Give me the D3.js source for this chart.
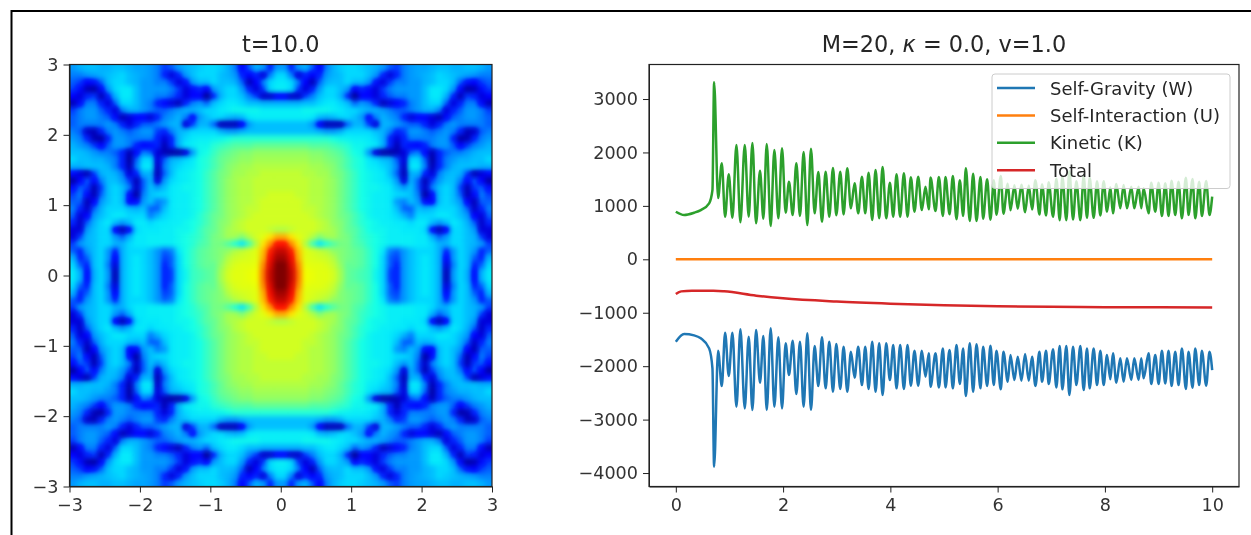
<!DOCTYPE html>
<html>
<head>
<meta charset="utf-8">
<script src="https://cdn.jsdelivr.net/npm/d3@7"></script>
<style>
  html, body { margin:0; padding:0; background:#fff; overflow:hidden; }
  svg { display:block; filter:blur(0.6px); }
  text { font-family:"DejaVu Sans", sans-serif; fill:#262626; }
  .tick line, .domain { stroke:#222; }
  .tick text { font-size:17.6px; font-family:"DejaVu Sans", sans-serif; fill:#333; }
</style>
</head>
<body>
<div id="fig"></div>
<script>
// upper left quarter of the density map, colour level read off by eye, rows run y=3 -> 0, columns x=-3 -> 0
// the picture is mirror symmetric so the other three quarters reuse it
const density = [
  [24,26,27,27,26,26,27,27,26,25,25,24,22,18,20,24,26,27,28,29,29,28,26,22,12,20,26,24,16,24],
  [22,22,24,25,26,27,28,29,27,26,25,24,22,16,8,16,24,27,29,29,29,27,26,24,16,10,16,8,22,29],
  [20,18,11,14,20,27,29,29,27,26,24,24,22,22,18,8,14,24,27,27,29,27,27,26,20,6,11,22,29,31],
  [18,13,6,5,13,24,29,31,31,27,24,24,24,24,22,18,8,13,16,10,24,27,29,29,24,16,8,18,29,32],
  [11,8,16,18,6,16,26,31,31,27,24,24,22,22,20,16,8,11,11,4,16,26,29,29,27,22,18,7,7,11],
  [6,13,22,22,16,8,20,29,29,27,24,22,16,11,8,6,16,22,24,20,27,29,31,31,29,27,27,26,26,26],
  [18,22,24,24,20,16,8,22,26,26,24,22,20,20,22,24,26,26,27,29,29,31,32,34,34,34,34,32,32,32],
  [20,22,24,24,22,20,13,6,8,10,10,8,16,22,24,26,22,13,24,27,29,29,27,26,27,31,32,32,32,32],
  [20,22,22,22,22,24,22,16,8,16,20,20,22,24,26,26,8,18,26,26,20,6,6,6,11,24,27,27,27,27],
  [22,20,7,6,16,22,24,22,20,22,24,24,18,16,22,26,27,29,29,29,29,26,24,24,26,27,27,27,27,27],
  [24,22,16,6,5,16,24,24,22,22,22,22,16,8,16,26,29,31,32,32,33,34,36,38,38,38,38,38,38,38],
  [26,24,22,18,11,20,24,24,22,16,10,13,16,6,16,26,31,32,34,34,38,40,42,44,44,44,46,46,46,46],
  [27,27,26,24,22,22,20,16,6,13,22,20,8,6,5,5,8,24,34,36,40,44,46,48,50,50,52,52,52,52],
  [29,27,27,26,26,24,22,16,5,20,29,29,8,20,26,27,29,31,36,38,42,46,48,50,52,52,54,54,54,54],
  [26,26,27,27,27,26,22,16,6,22,31,31,7,22,27,29,31,32,36,38,42,46,50,52,54,54,56,56,56,56],
  [13,8,6,18,26,27,26,22,8,16,26,26,6,20,27,31,32,34,36,40,44,48,50,54,54,56,56,58,58,58],
  [5,11,20,13,22,27,27,24,18,6,20,26,8,24,29,31,32,34,36,40,44,48,52,54,56,56,58,58,58,58],
  [13,20,18,6,18,27,29,27,22,7,20,27,24,27,31,32,34,34,36,40,44,48,52,54,56,56,58,58,58,58],
  [18,22,13,6,20,27,29,27,13,5,22,27,29,29,31,32,32,34,36,40,44,48,52,54,56,56,58,58,60,60],
  [20,20,6,11,24,27,29,27,11,13,24,27,22,24,31,32,32,34,36,40,44,48,52,54,56,56,58,60,60,60],
  [22,16,7,20,26,29,29,29,27,26,27,20,20,27,31,32,32,34,36,40,44,48,52,54,56,58,58,60,60,60],
  [20,8,11,24,27,29,31,31,29,29,29,22,26,29,31,32,32,34,38,42,46,48,52,54,56,58,60,60,60,60],
  [16,7,20,26,29,31,27,24,27,31,31,29,31,31,32,32,34,36,38,42,46,50,52,56,58,60,60,60,60,60],
  [8,8,24,27,29,29,11,6,13,29,31,31,31,32,32,34,34,36,40,44,46,50,54,56,58,60,60,60,58,56],
  [8,18,26,27,29,29,24,20,26,31,31,32,32,32,32,34,36,38,40,44,48,50,54,54,50,56,60,62,66,72],
  [18,24,26,27,29,29,26,26,29,31,31,32,32,32,32,34,36,38,42,44,48,48,44,38,30,42,56,66,76,88],
  [20,16,24,27,29,24,16,26,29,29,29,27,24,20,22,31,36,40,44,46,48,50,52,56,58,60,62,70,86,94],
  [26,16,20,27,29,24,11,26,29,31,29,27,24,18,20,29,36,40,44,46,48,50,56,59,60,61,62,72,90,97],
  [29,20,16,27,29,22,8,26,29,31,29,27,24,16,20,29,36,40,44,46,46,52,58,61,62,62,63,76,92,100],
  [31,26,13,26,29,24,6,26,29,31,29,27,24,16,18,29,34,40,42,44,46,54,60,62,62,63,64,78,94,100]
]

const time = [0,0.155,0.341,0.466,0.621,0.683,0.714,0.788,0.857,0.919,0.987,1.055,1.13,1.204,1.285,1.359,1.428,1.496,1.57,1.632,1.695,1.769,1.837,1.912,1.98,2.048,2.11,2.179,2.247,2.315,2.383,2.452,2.52,2.588,2.657,2.725,2.793,2.861,2.93,2.992,3.066,3.128,3.197,3.265,3.333,3.401,3.47,3.532,3.594,3.662,3.724,3.792,3.855,3.923,3.991,4.053,4.115,4.183,4.252,4.32,4.382,4.45,4.519,4.587,4.655,4.717,
  4.749,4.842,4.904,4.979,5.028,5.103,5.165,5.233,5.295,5.357,5.407,5.481,5.543,5.606,5.68,5.73,5.804,5.866,5.928,5.978,6.059,6.108,6.189,6.239,6.313,6.375,6.443,6.512,6.58,6.642,6.704,6.779,6.828,6.903,6.952,7.033,7.095,7.157,7.207,7.281,7.337,7.406,7.468,7.542,7.604,7.666,7.716,7.79,7.853,7.915,7.977,8.039,8.101,8.15,8.213,8.287,8.349,8.411,8.492,8.548,8.628,8.678,8.721,8.815,8.864,8.939,9.001,9.063,9.125,9.187,9.243,9.311,9.373,9.435,9.51,9.559,9.634,9.684,9.758,9.808,9.888,9.95,10]

const selfGravity = [-1542,-1398,-1423,-1479,-1667,-2041,-3881,-1710,-2372,-1373,-2184,-1373,-2759,-1311,-2790,-1448,-2821,-1323,-2309,-1436,-2821,-1292,-2759,-1461,-2790,-1573,-2166,-1523,-2521,-1542,-2759,-1386,-2821,-1623,-2372,-1461,-2415,-1542,-2478,-1585,-2428,-1635,-2478,-1729,-2216,-1635,-2353,-1635,-2428,-1542,-2478,-1573,-2540,-1573,-2259,-1604,-2415,-1604,-2428,-1604,-2365,-1710,-2365,-1710,-2197,-1760,
  -2384,-1760,-2397,-1667,-2397,-1698,-2415,-1604,-2334,-1667,-2559,-1573,-2478,-1592,-2415,-1635,-2372,-1617,-2353,-1710,-2434,-1729,-2291,-1791,-2259,-1823,-2272,-1773,-2272,-1823,-2372,-1729,-2291,-1710,-2334,-1685,-2397,-1623,-2434,-1623,-2540,-1635,-2353,-1623,-2447,-1667,-2415,-1667,-2353,-1710,-2353,-1791,-2247,-1760,-2309,-1854,-2291,-1854,-2259,-1854,-2259,-1854,-2228,-1760,-2334,-1791,-2334,-1710,-2322,-1710,-2372,-1729,-2353,-1667,-2428,-1729,-2403,-1667,-2353,-1710,-2365,-1729,-2072]

const kinetic = [891,829,872,922,1048,1297,3313,1147,1796,798,1590,779,2139,692,2139,798,2177,673,1658,760,2158,623,2046,767,2077,872,1453,829,1796,810,2008,642,2070,860,1634,704,1640,798,1709,823,1640,841,1703,954,1422,860,1546,860,1621,735,1671,767,1727,767,1434,798,1590,798,1609,798,1534,891,1546,922,1359,935,
  1529,905,1542,812,1542,843,1560,749,1479,812,1704,718,1603,717,1540,760,1497,742,1478,835,1559,854,1416,916,1384,948,1397,883,1382,933,1482,839,1401,820,1444,795,1507,733,1544,733,1650,745,1463,733,1557,777,1525,777,1463,820,1463,891,1347,860,1409,954,1391,954,1359,954,1359,954,1328,860,1434,891,1434,810,1422,810,1472,829,1453,767,1528,829,1503,767,1453,810,1465,829,1172]

const totalTime = [0,0.1,0.3,0.7,0.9,1.5,2,3,4,5,6,7,8,10]
const total = [-650,-600,-590,-590,-600,-680,-730,-790,-830,-860,-880,-890,-895,-900]

const interactionTime = [0,10]
const interaction = [0,0]

const legendLabels = ["Self-Gravity (W)","Self-Interaction (U)","Kinetic (K)","Total"]
const colors = ["#1f77b4","#ff7f0e","#2ca02c","#d62728"]

const xTicksLeft = [-3,-2,-1,0,1,2,3]
const xTicksRight = [0,2,4,6,8,10]
const yTicksRight = [-4000,-3000,-2000,-1000,0,1000,2000,3000]

const svg = d3.select("#fig").append("svg")
  .attr("width",1251)
  .attr("height",535)

// frame of the screenshot, open at bottom and right
svg.append("path")
  .attr("d","M11.5,535V11H1251")
  .style("fill","none")
  .style("stroke","#000")
  .style("stroke-width",2)

const fmt = (val) => val < 0 ? "\u2212" + Math.abs(val) : val.toString()

// left panel
const mapLeft = 69.5, mapRight = 492, mapTop = 64.5, mapBottom = 486.5
const mx = d3.scaleLinear().domain([-3,3]).range([mapLeft,mapRight])
const my = d3.scaleLinear().domain([-3,3]).range([mapBottom,mapTop])
const jet = d3.scaleLinear()
  .domain([3,10,12,30,36,64,66,89,100])
  .range(["#00007f","#0000ff","#0000ff","#00e5ff","#14ffe6","#f1ff00","#ffe600","#ff1200","#7f0000"])

const defs = svg.append("defs")
defs.append("clipPath").attr("id","mapclip")
  .append("rect")
  .attr("x",mapLeft).attr("y",mapTop)
  .attr("width",mapRight-mapLeft).attr("height",mapBottom-mapTop)
const soft = defs.append("filter").attr("id","soft")
  .attr("x",-0.1).attr("y",-0.1).attr("width",1.2).attr("height",1.2)
  .attr("color-interpolation-filters","sRGB")
soft.append("feGaussianBlur").attr("stdDeviation",2.7)
// the blur washes the dark ridges out, pull the green back down there
soft.append("feComponentTransfer")
  .append("feFuncG").attr("type","table").attr("tableValues","0 0.17 0.5 0.75 1")

// mirror the quarter into 60x60 cells, the outer ring is overdrawn so the blur has no pale edge
const cells = []
for(let i=-3;i<63;i++){
  for(let j=-3;j<63;j++){
    const r = Math.max(0,Math.min(59,i)), c = Math.max(0,Math.min(59,j))
    const v = density[r<30?r:59-r][c<30?c:59-c]
    cells.push({x:-3+j*0.1,y:3-i*0.1,v:v})
  }
}
svg.append("g").attr("clip-path","url(#mapclip)")
  .append("g").attr("filter","url(#soft)")
  .selectAll("rect")
  .data(cells)
  .enter()
  .append("rect")
    .attr("x",d=>mx(d.x))
    .attr("y",d=>my(d.y))
    .attr("width",mx(0.1)-mx(0)+0.5)
    .attr("height",my(0)-my(0.1)+0.5)
    .style("fill",d=>jet(d.v))

function frame(l,t,r,b){
  svg.append("rect")
    .attr("x",l).attr("y",t).attr("width",r-l).attr("height",b-t)
    .style("fill","none").style("stroke","#222").style("stroke-width",1.2)
}

svg.append("g")
  .attr("transform","translate(0,"+mapBottom+")")
  .call(d3.axisBottom(mx).tickValues(xTicksLeft).tickFormat(fmt).tickSize(6).tickPadding(6).tickSizeOuter(0))
svg.append("g")
  .attr("transform","translate("+mapLeft+",0)")
  .call(d3.axisLeft(my).tickValues(xTicksLeft).tickFormat(fmt).tickSize(6).tickPadding(5).tickSizeOuter(0))
frame(mapLeft,mapTop,mapRight,mapBottom)

svg.append("text")
  .attr("x",(mapLeft+mapRight)/2).attr("y",52)
  .attr("text-anchor","middle")
  .style("font-size","22.4px")
  .text("t=10.0")

// right panel
const plotLeft = 649, plotRight = 1239, plotTop = 64.5, plotBottom = 486.5
const x = d3.scaleLinear().domain([-0.5,10.5]).range([plotLeft,plotRight])
const y = d3.scaleLinear().domain([-4252,3646]).range([plotBottom,plotTop])

function series(ts,vs,color){
  svg.append("path")
    .datum(ts.map((t,i)=>[t,vs[i]]))
    .attr("d",d3.line().x(d=>x(d[0])).y(d=>y(d[1])).curve(d3.curveMonotoneX))
    .style("fill","none")
    .style("stroke",color)
    .style("stroke-width",2.5)
}
series(time,selfGravity,colors[0])
series(interactionTime,interaction,colors[1])
series(time,kinetic,colors[2])
series(totalTime,total,colors[3])

svg.append("g")
  .attr("transform","translate(0,"+plotBottom+")")
  .call(d3.axisBottom(x).tickValues(xTicksRight).tickFormat(fmt).tickSize(6).tickPadding(6).tickSizeOuter(0))
svg.append("g")
  .attr("transform","translate("+plotLeft+",0)")
  .call(d3.axisLeft(y).tickValues(yTicksRight).tickFormat(fmt).tickSize(6).tickPadding(5).tickSizeOuter(0))
frame(plotLeft,plotTop,plotRight,plotBottom)

const title = svg.append("text")
  .attr("x",(plotLeft+plotRight)/2).attr("y",52)
  .attr("text-anchor","middle")
  .style("font-size","22.4px")
title.append("tspan").text("M=20, ")
title.append("tspan").style("font-style","italic").text("\u03BA")
title.append("tspan").text(" = 0.0, v=1.0")

// legend
const legend = svg.append("g")
legend.append("rect")
  .attr("x",992).attr("y",74).attr("width",238).attr("height",114.5).attr("rx",3)
  .style("fill","#fff").style("fill-opacity",0.8)
  .style("stroke","#ccc").style("stroke-width",1)
legendLabels.forEach((label,i)=>{
  const ly = 88 + i*27.4
  legend.append("line")
    .attr("x1",997).attr("x2",1035).attr("y1",ly).attr("y2",ly)
    .style("stroke",colors[i]).style("stroke-width",2.5)
  legend.append("text")
    .attr("x",1050).attr("y",ly+6.5)
    .style("font-size","18px")
    .text(label)
})
</script>
</body>
</html>
